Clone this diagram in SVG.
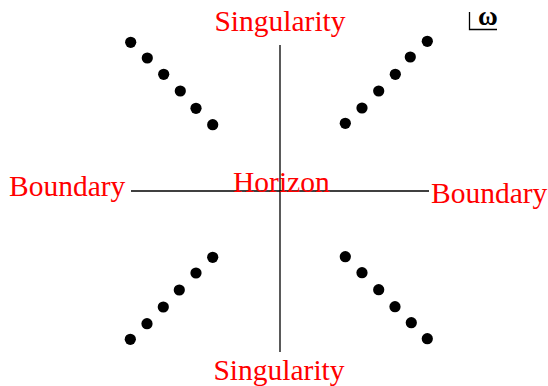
<svg xmlns="http://www.w3.org/2000/svg" width="548" height="386" viewBox="0 0 548 386">
<style>
.lbl{font-family:"Liberation Serif","Times New Roman",serif;font-size:29.5px;fill:#ff0000}
.ax{stroke:#000;stroke-width:1.3;fill:none}
.dot{fill:#000}
</style>
<rect width="548" height="386" fill="#fff"/>
<g id="connectors">
<line class="ax" x1="280" y1="45" x2="280" y2="352"/>
<line class="ax" x1="131" y1="191" x2="429" y2="191"/>
</g>
<g id="dots-top-left">
<circle class="dot" cx="130.7" cy="42.3" r="5.6"/>
<circle class="dot" cx="147.3" cy="58" r="5.6"/>
<circle class="dot" cx="163.7" cy="74.3" r="5.6"/>
<circle class="dot" cx="180.3" cy="91" r="5.6"/>
<circle class="dot" cx="196" cy="108.3" r="5.6"/>
<circle class="dot" cx="212.7" cy="124.7" r="5.6"/>
</g>
<g id="dots-top-right">
<circle class="dot" cx="427.3" cy="41.3" r="5.6"/>
<circle class="dot" cx="410.3" cy="57" r="5.6"/>
<circle class="dot" cx="395.3" cy="74.3" r="5.6"/>
<circle class="dot" cx="378.7" cy="91" r="5.6"/>
<circle class="dot" cx="362" cy="108" r="5.6"/>
<circle class="dot" cx="345.3" cy="123.3" r="5.6"/>
</g>
<g id="dots-bottom-left">
<circle class="dot" cx="212.7" cy="257.3" r="5.6"/>
<circle class="dot" cx="196" cy="273" r="5.6"/>
<circle class="dot" cx="179.3" cy="290" r="5.6"/>
<circle class="dot" cx="163.3" cy="307" r="5.6"/>
<circle class="dot" cx="147" cy="323.7" r="5.6"/>
<circle class="dot" cx="130.3" cy="339.3" r="5.6"/>
</g>
<g id="dots-bottom-right">
<circle class="dot" cx="345.3" cy="256.7" r="5.6"/>
<circle class="dot" cx="362" cy="272.7" r="5.6"/>
<circle class="dot" cx="378.7" cy="289.7" r="5.6"/>
<circle class="dot" cx="395" cy="306.7" r="5.6"/>
<circle class="dot" cx="411.3" cy="322.7" r="5.6"/>
<circle class="dot" cx="427.3" cy="338.7" r="5.6"/>
</g>
<g id="singularity-top"><text class="lbl" x="280" y="31" text-anchor="middle">Singularity</text></g>
<g id="singularity-bottom"><text class="lbl" x="279" y="380" text-anchor="middle">Singularity</text></g>
<g id="boundary-left"><text class="lbl" x="9" y="196">Boundary</text></g>
<g id="horizon"><text class="lbl" x="233" y="192">Horizon</text></g>
<g id="boundary-right"><text class="lbl" x="431" y="203">Boundary</text></g>
<g id="omega">
<path class="ax" d="M469.5 12 V29.5 H497"/>
<text x="478" y="24.5" font-family="Liberation Serif,serif" font-size="27" font-weight="bold" fill="#000">ω</text>
</g>
</svg>
